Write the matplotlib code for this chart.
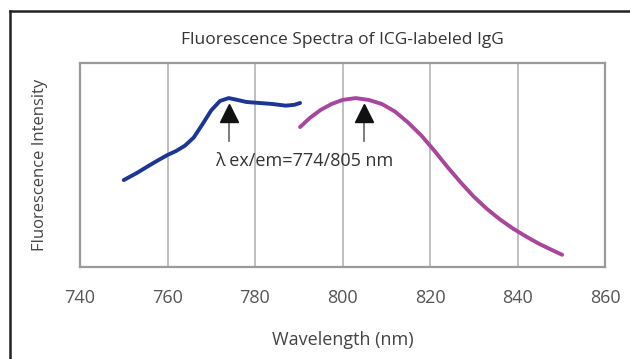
import matplotlib
matplotlib.use("Agg")
import matplotlib.pyplot as plt
from matplotlib.lines import Line2D

plt.rcParams['font.family'] = ['Open Sans', 'DejaVu Sans']

# excitation spectrum (blue)
ex_wl = [750, 753, 756, 758, 760, 762, 764, 766, 768, 770, 772, 774, 776, 778, 781, 784, 787, 789, 790.3]
ex_int = [0.426, 0.461, 0.50, 0.525, 0.549, 0.569, 0.595, 0.635, 0.70, 0.768, 0.814, 0.828,
          0.819, 0.809, 0.804, 0.799, 0.791, 0.795, 0.804]

# emission spectrum (magenta)
em_wl = [790.3, 792.5, 795, 797.5, 800, 803, 806, 809, 812, 815, 818, 821, 824, 827, 830,
         833, 836, 839, 842, 845, 848, 850.2]
em_int = [0.686, 0.73, 0.77, 0.799, 0.819, 0.828, 0.819, 0.799, 0.762, 0.708, 0.645, 0.57, 0.49,
          0.415, 0.345, 0.285, 0.233, 0.188, 0.149, 0.113, 0.082, 0.06]

peaks = [774, 805]
xticks = [740, 760, 780, 800, 820, 840, 860]

fig = plt.figure(figsize=(6.3, 3.59), dpi=100)
ax = fig.add_axes([80 / 630, 1 - 267 / 359, 525 / 630, 204 / 359])

ax.plot(ex_wl, ex_int, color='#1c3596', lw=2.8, solid_capstyle='round', solid_joinstyle='round', zorder=3)
ax.plot(em_wl, em_int, color='#a8469e', lw=2.8, solid_capstyle='round', solid_joinstyle='round', zorder=3)

# arrows: gray shaft, black head
for p in peaks:
    ax.plot([p, p], [0.62, 0.73], color='#666666', lw=1.2, zorder=4)
    ax.plot([p], [0.755], marker='^', ms=13, color='#111111', mec='#111111', zorder=5)

ax.text(774 - 3.1, 0.52, 'λ ex/em=774/805 nm', fontsize=13, color='#333333',
        ha='left', va='center')

ax.set_xlim(740, 860)
ax.set_ylim(0, 1)
ax.set_xticks(xticks)
ax.set_yticks([])
ax.tick_params(axis='x', length=0, pad=16, labelsize=13, labelcolor='#555555')
ax.grid(axis='x', color='#bbbbbb', lw=1.3)
for s in ax.spines.values():
    s.set_color('#9a9a9a')
    s.set_linewidth(1.6)

ax.set_title('Fluorescence Spectra of ICG-labeled IgG', fontsize=12.5, color='#333333', pad=14)
ax.set_xlabel('Wavelength (nm)', fontsize=13, color='#444444', labelpad=17)
ax.set_ylabel('Fluorescence Intensity', fontsize=12, color='#444444', labelpad=23)

# frame around the figure (left and top edges visible)
fig.add_artist(Line2D([10 / 630, 10 / 630], [0, 1 - 11 / 359], color='#222222', lw=1.8))
fig.add_artist(Line2D([10 / 630, 1], [1 - 11 / 359, 1 - 11 / 359], color='#222222', lw=1.8))

fig.savefig('out.png', dpi=100)
